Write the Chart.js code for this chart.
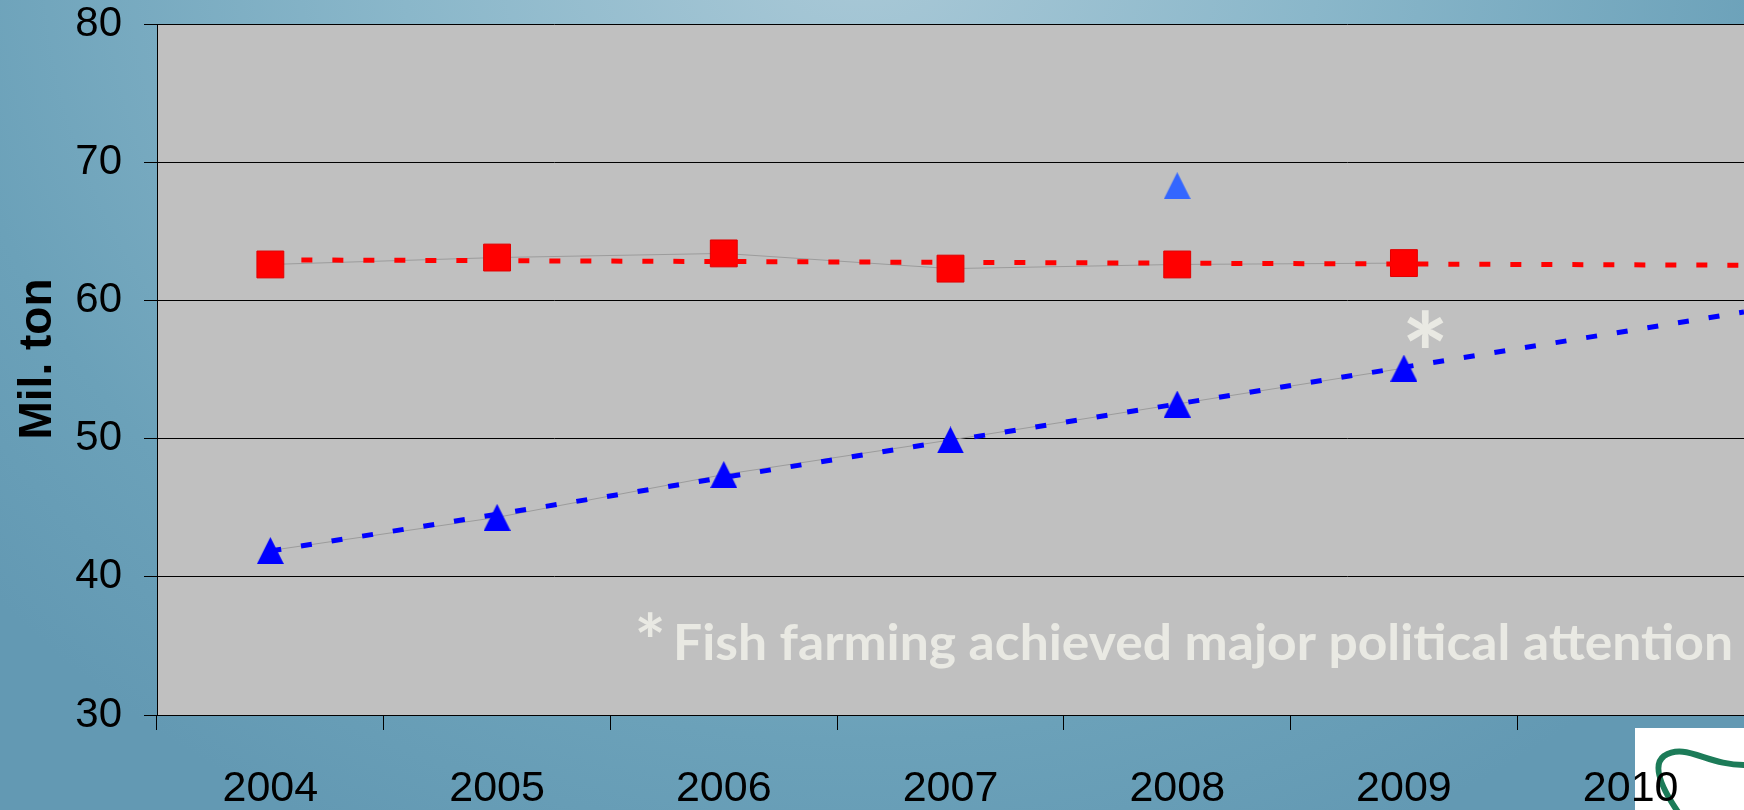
<!DOCTYPE html>
<html>
<head>
<meta charset="utf-8">
<title>Mil. ton</title>
<script src="https://cdn.jsdelivr.net/npm/chart.js@4.4.1/dist/chart.umd.min.js"></script>
<style>
  html, body { margin: 0; padding: 0; }
  body {
    width: 1744px; height: 810px; overflow: hidden;
    background: radial-gradient(ellipse 1150px 1000px at 860px -60px, #aac9d7 0%, #8ab7ca 40%, #6ba1b9 80%, #6399b3 100%);
  }
  #chart { display: block; }
</style>
</head>
<body>
<canvas id="chart" width="1744" height="810"></canvas>
<script>
const years = ['2004', '2005', '2006', '2007', '2008', '2009', '2010'];
const redValues = [62.6, 63.1, 63.4, 62.3, 62.6, 62.7, null];
const blueValues = [41.9, 44.3, 47.4, 49.9, 52.5, 55.1, null];
const extraValues = [null, null, null, null, 68.3, null, null];
const yTicks = [30, 40, 50, 60, 70, 80];
const yTitle = 'Mil. ton';
const noteText = 'Fish farming achieved major political attention';

const FONT = "'Liberation Sans', Arial, sans-serif";

// linear trend over the known points, carried to the right edge of the last category
function trendOf(values) {
  const pts = [];
  values.forEach((v, i) => { if (v !== null) pts.push([i, v]); });
  const n = pts.length;
  const mx = pts.reduce((s, p) => s + p[0], 0) / n;
  const my = pts.reduce((s, p) => s + p[1], 0) / n;
  let sxy = 0, sxx = 0;
  pts.forEach(p => { sxy += (p[0] - mx) * (p[1] - my); sxx += (p[0] - mx) * (p[0] - mx); });
  const b = sxy / sxx;
  const a = my - b * mx;
  const end = years.length - 0.5;
  return [{ x: pts[0][0], y: a + b * pts[0][0] }, { x: end, y: a + b * end }];
}

function triangleMarker(color, size) {
  const c = document.createElement('canvas');
  c.width = size; c.height = size;
  const g = c.getContext('2d');
  g.fillStyle = color;
  g.beginPath();
  g.moveTo(size / 2, 0);
  g.lineTo(size, size);
  g.lineTo(0, size);
  g.closePath();
  g.fill();
  return c;
}

function drawStar(ctx, cx, cy, h) {
  ctx.font = "bold 100px Lato";
  const m = ctx.measureText('*');
  const size = 100 * h / (m.actualBoundingBoxAscent + m.actualBoundingBoxDescent);
  ctx.font = 'bold ' + size + 'px Lato';
  const m2 = ctx.measureText('*');
  ctx.textAlign = 'left';
  ctx.textBaseline = 'alphabetic';
  const x = cx - (m2.actualBoundingBoxRight - m2.actualBoundingBoxLeft) / 2;
  const y = cy - (m2.actualBoundingBoxDescent - m2.actualBoundingBoxAscent) / 2;
  ctx.fillText('*', x, y);
}

const backdrop = {
  id: 'backdrop',
  beforeDraw(chart) {
    const { ctx, chartArea: a } = chart;
    ctx.save();
    ctx.fillStyle = '#c0c0c0';
    ctx.fillRect(a.left, a.top, a.right - a.left, a.bottom - a.top);
    // logo corner
    ctx.fillStyle = '#ffffff';
    ctx.fillRect(1635, 728, 109, 82);
    ctx.strokeStyle = '#1c7b58';
    ctx.lineWidth = 6;
    ctx.beginPath();
    ctx.moveTo(1678, 812);
    ctx.quadraticCurveTo(1648, 768, 1664, 756);
    ctx.bezierCurveTo(1686, 742, 1708, 766, 1746, 765);
    ctx.stroke();
    ctx.restore();
  }
};

const notes = {
  id: 'notes',
  afterDraw(chart) {
    const ctx = chart.ctx;
    ctx.save();
    // y axis title, sits a little above the plot centre
    ctx.fillStyle = '#000';
    ctx.font = 'bold 46px ' + FONT;
    ctx.textAlign = 'center';
    ctx.textBaseline = 'alphabetic';
    ctx.save();
    ctx.translate(51, 359);
    ctx.rotate(-Math.PI / 2);
    ctx.fillText(yTitle, 0, 0);
    ctx.restore();

    ctx.fillStyle = '#e9e9e3';
    ctx.font = "bold 49px Lato";
    ctx.textAlign = 'left';
    const w = ctx.measureText(noteText).width;
    const target = 1060;
    ctx.save();
    ctx.translate(673, 660);
    ctx.scale(target / w, 1);
    ctx.fillText(noteText, 0, 0);
    ctx.restore();
    drawStar(ctx, 650, 624, 25);
    drawStar(ctx, 1425, 329, 38);
    ctx.restore();
  }
};

new Chart(document.getElementById('chart'), {
  type: 'line',
  data: {
    labels: years,
    datasets: [
      {
        label: 'Red trend',
        data: trendOf(redValues),
        xAxisID: 'xt',
        borderColor: '#ff0000',
        borderWidth: 5,
        borderDash: [11, 20],
        borderCapStyle: 'butt',
        pointRadius: 0,
        order: 0
      },
      {
        label: 'Blue trend',
        data: trendOf(blueValues),
        xAxisID: 'xt',
        borderColor: '#0000ff',
        borderWidth: 5,
        borderDash: [11, 20],
        borderCapStyle: 'butt',
        pointRadius: 0,
        order: 0
      },
      {
        label: 'Red',
        data: redValues,
        borderColor: '#9c9c9c',
        borderWidth: 1,
        pointStyle: 'rect',
        pointRadius: 19,
        pointBackgroundColor: '#ff0000',
        pointBorderColor: '#e00000',
        pointBorderWidth: 1,
        order: 1
      },
      {
        label: 'Blue',
        data: blueValues,
        borderColor: '#9c9c9c',
        borderWidth: 1,
        pointStyle: triangleMarker('#0000ff', 27),
        pointRadius: 14,
        order: 1
      },
      {
        label: 'Extra',
        data: extraValues,
        showLine: false,
        pointStyle: triangleMarker('#3366ff', 27),
        pointRadius: 14,
        order: 1
      }
    ]
  },
  options: {
    responsive: false,
    animation: false,
    layout: { autoPadding: false, padding: { top: 24, right: 0, bottom: 0, left: 0 } },
    plugins: {
      legend: { display: false },
      tooltip: { enabled: false }
    },
    scales: {
      x: {
        type: 'category',
        offset: true,
        grid: { offset: true, drawOnChartArea: false, drawTicks: true, tickLength: 15, color: '#000' },
        border: { color: '#000', width: 1 },
        ticks: { color: '#000', font: { family: FONT, size: 43 }, padding: 33, maxRotation: 0, autoSkip: false },
        afterFit: s => { s.height = 95; s.paddingLeft = 0; s.paddingRight = 0; }
      },
      xt: {
        type: 'linear',
        min: -0.5,
        max: years.length - 0.5,
        display: false,
        ticks: { display: false },
        grid: { display: false }
      },
      y: {
        min: 30,
        max: 80,
        afterBuildTicks: s => { s.ticks = yTicks.map(v => ({ value: v })); },
        grid: { color: '#000', lineWidth: 1, tickLength: 13 },
        border: { color: '#000', width: 1 },
        ticks: { color: '#000', font: { family: FONT, size: 42 }, padding: 22 },
        afterFit: s => { s.width = 157; s.paddingTop = 0; s.paddingBottom = 0; }
      }
    }
  },
  plugins: [backdrop, notes]
});
</script>
</body>
</html>
